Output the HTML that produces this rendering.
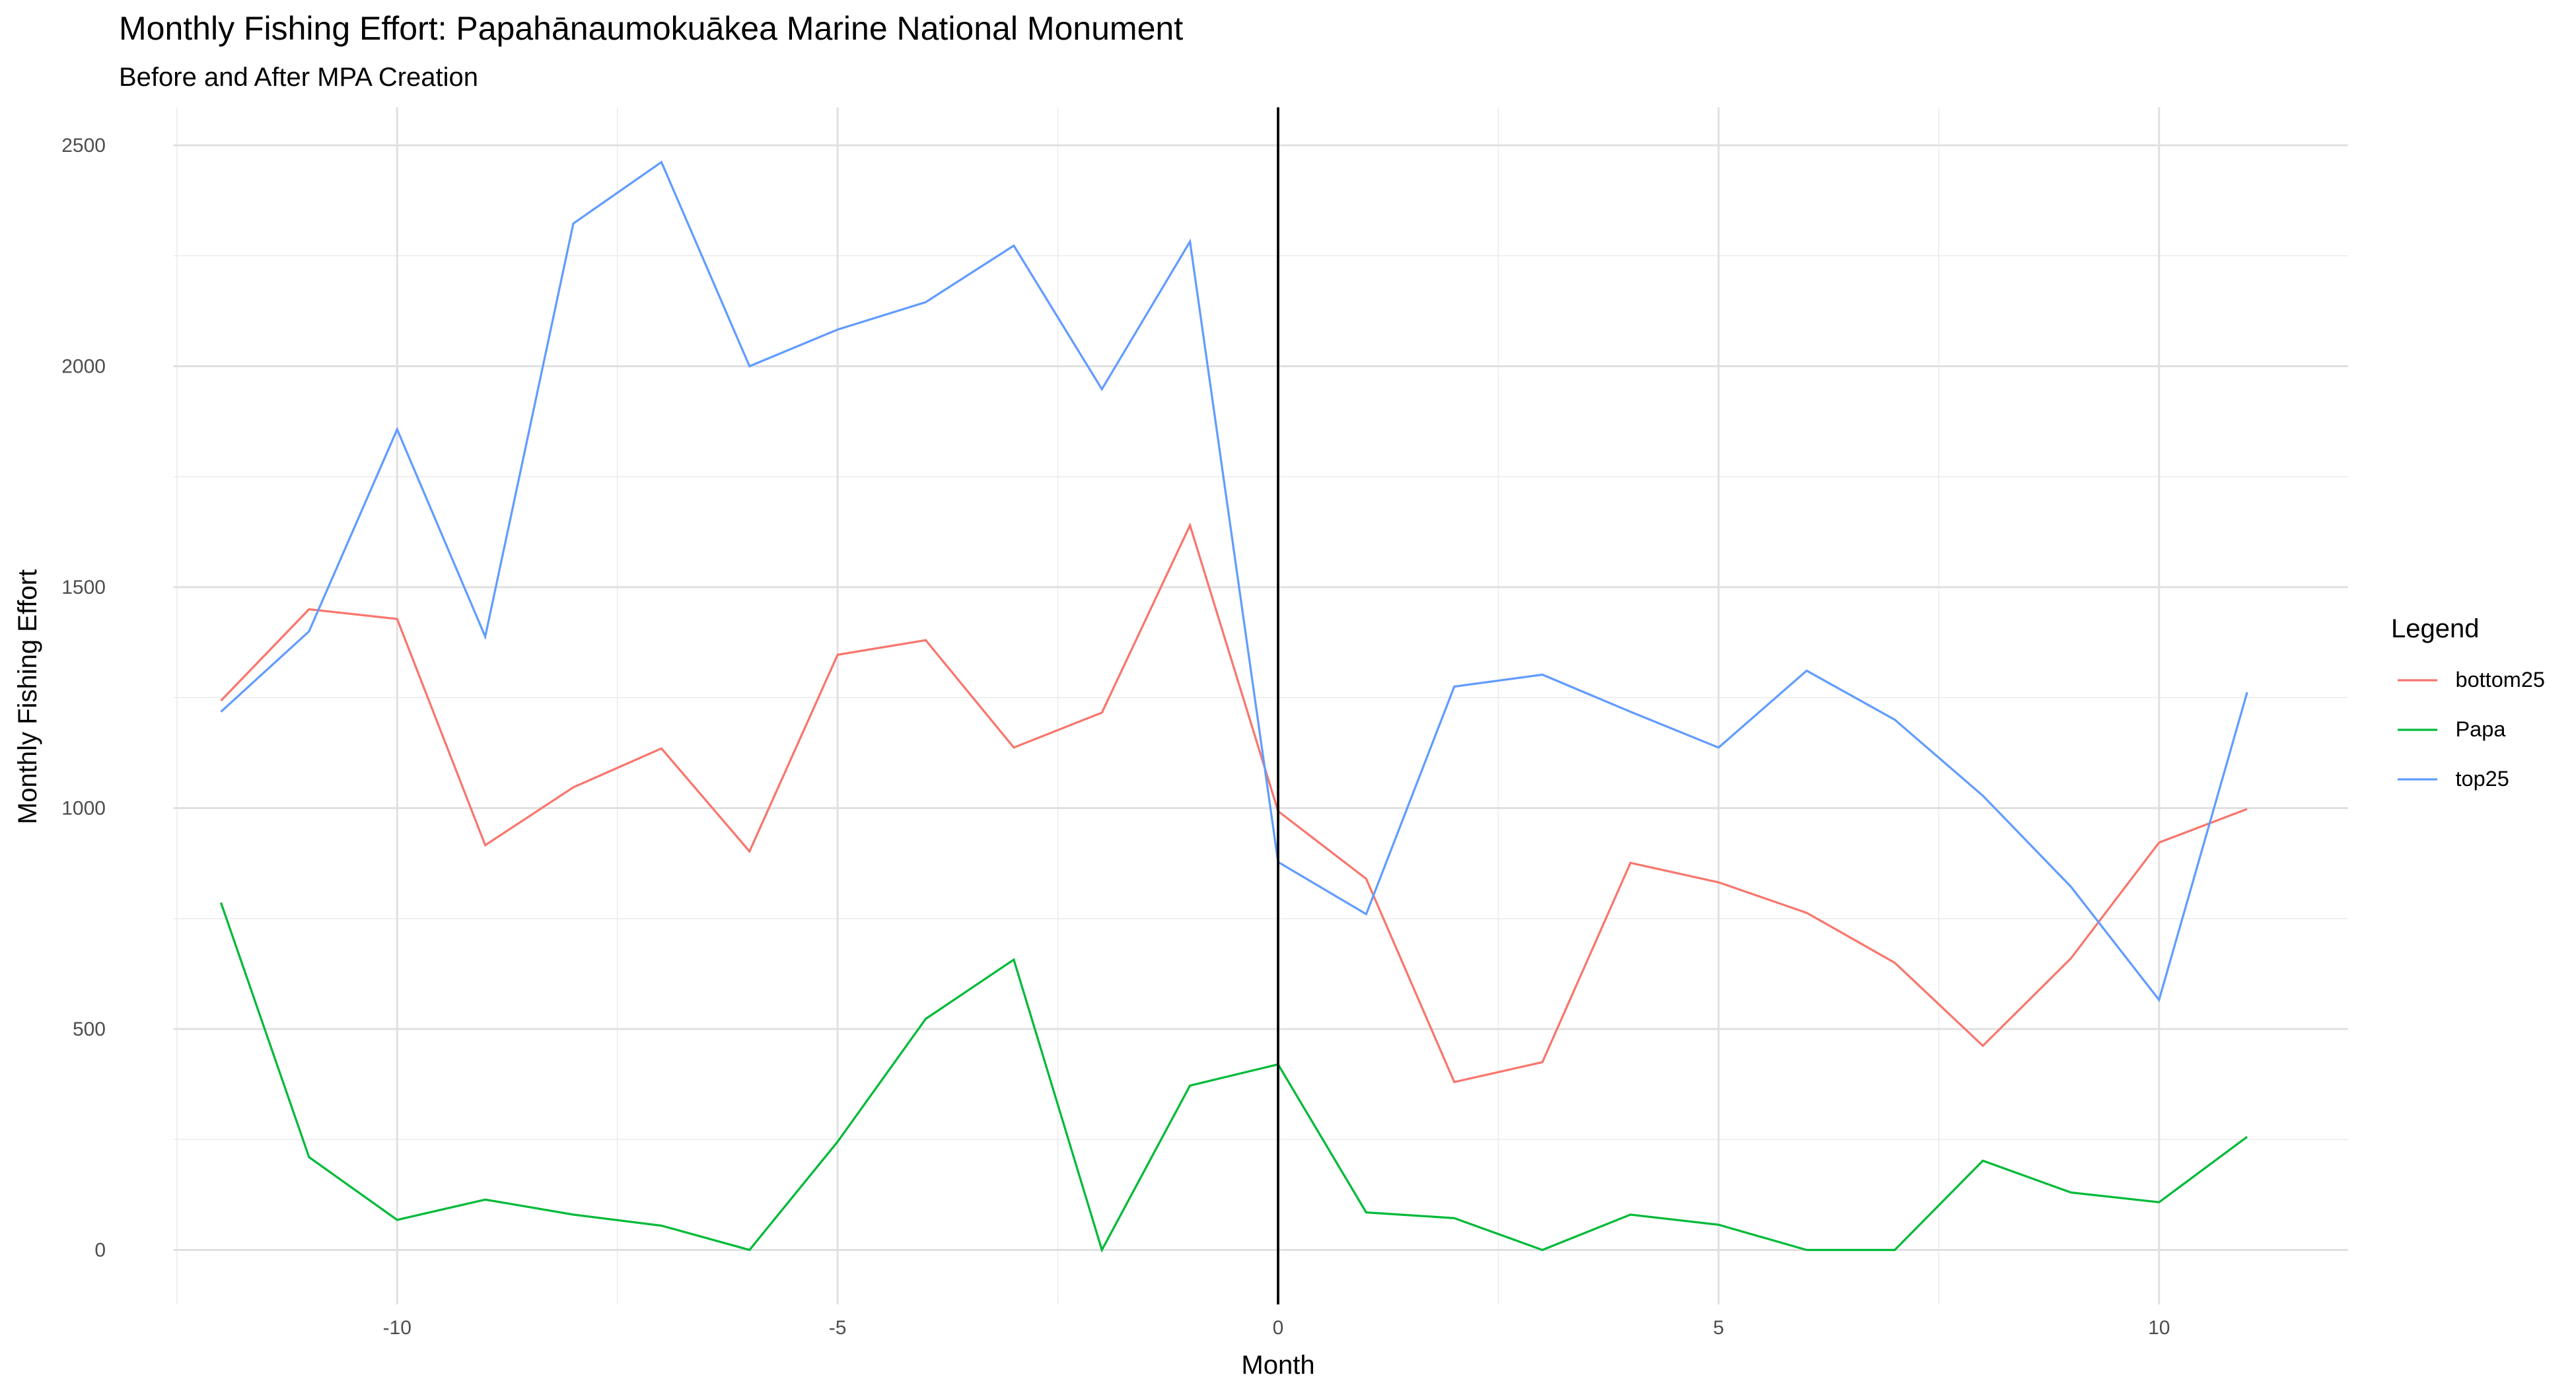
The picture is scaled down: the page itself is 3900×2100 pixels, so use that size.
<!DOCTYPE html>
<html><head><meta charset="utf-8"><style>html,body{margin:0;padding:0;background:#fff}svg{display:block}</style></head>
<body>
<svg id="chart" width="3900" height="2100" viewBox="0 0 1560 840" xmlns="http://www.w3.org/2000/svg" font-family="Liberation Sans, sans-serif">
<rect width="1560" height="840" fill="#fff"/>
<text x="72" y="24" font-size="20" fill="#000">Monthly Fishing Effort: Papahānaumokuākea Marine National Monument</text>
<text x="72" y="52" font-size="16" fill="#000">Before and After MPA Creation</text>
<g id="grid"></g>
<g id="series"></g>
<g id="axes"></g>
<text x="774" y="832" font-size="16" text-anchor="middle">Month</text>
<text transform="translate(22,422) rotate(-90)" font-size="16" text-anchor="middle">Monthly Fishing Effort</text>
<g id="legend">
<text x="1448" y="386" font-size="16">Legend</text>
</g>
</svg>
<script>
const months = [-12,-11,-10,-9,-8,-7,-6,-5,-4,-3,-2,-1,0,1,2,3,4,5,6,7,8,9,10,11];
const top25 = [1218,1400,1857,1388,2323,2462,2000,2083,2145,2273,1948,2282,878,760,1275,1302,1218,1137,1311,1200,1028,822,566,1262];
const bottom25 = [1243,1450,1428,916,1047,1135,902,1347,1380,1137,1216,1640,993,840,380,425,876,832,763,650,462,660,922,998];
const papa = [786,210,68,114,80,55,0,245,523,657,0,372,420,85,72,0,80,57,0,0,202,130,108,256];
const xTicks = [-10,-5,0,5,10];
const xMinor = [-12.5,-7.5,-2.5,2.5,7.5];
const yTicks = [0,500,1000,1500,2000,2500];
const yMinor = [250,750,1250,1750,2250];

const NS='http://www.w3.org/2000/svg';
const X = m => 774 + m*53.35;
const Y = v => 757 - v*0.2676;
const L=105, R=1422, T=65, B=790;
function mk(tag, attrs, parent){const e=document.createElementNS(NS,tag);for(const k in attrs)e.setAttribute(k,attrs[k]);parent.appendChild(e);return e;}
const grid=document.getElementById('grid'), axes=document.getElementById('axes'), ser=document.getElementById('series'), leg=document.getElementById('legend');
yMinor.forEach(v=>{const e=mk('line',{x1:L,x2:R,y1:Y(v),y2:Y(v),stroke:'#ebebeb','stroke-width':0.6},grid);

});
xMinor.forEach(v=>{const e=mk('line',{x1:X(v),x2:X(v),y1:T,y2:B,stroke:'#ebebeb','stroke-width':0.6},grid);

});
yTicks.forEach(v=>{const e=mk('line',{x1:L,x2:R,y1:Y(v),y2:Y(v),stroke:'#e0e0e0','stroke-width':1.2},grid);


const t=mk('text',{x:64,y:Y(v)+4,'font-size':12,'text-anchor':'end',fill:'#4d4d4d'},axes);t.textContent=v;

});
xTicks.forEach(v=>{const e=mk('line',{x1:X(v),x2:X(v),y1:T,y2:B,stroke:'#e0e0e0','stroke-width':1.2},grid);


const t=mk('text',{x:X(v),y:808,'font-size':12,'text-anchor':'middle',fill:'#4d4d4d'},axes);t.textContent=v;

});
const series=[['bottom25',bottom25,'#F8766D'],['Papa',papa,'#00BA38'],['top25',top25,'#619CFF']];
series.forEach(([n,d,c])=>{const p=mk('polyline',{points:months.map((m,i)=>X(m)+','+Y(d[i])).join(' '),fill:'none',stroke:c,'stroke-width':1.3},ser);

});
const vl=mk('line',{x1:X(0),x2:X(0),y1:T,y2:B,stroke:'#000','stroke-width':1.5},ser);


series.forEach(([n,d,c],i)=>{const y=412+i*30;
const g=mk('g',{},leg);


mk('line',{x1:1452,x2:1476,y1:y,y2:y,stroke:c,'stroke-width':1.3},g);
const t=mk('text',{x:1487,y:y+4,'font-size':13},g);t.textContent=n;});
</script>
</body></html>
